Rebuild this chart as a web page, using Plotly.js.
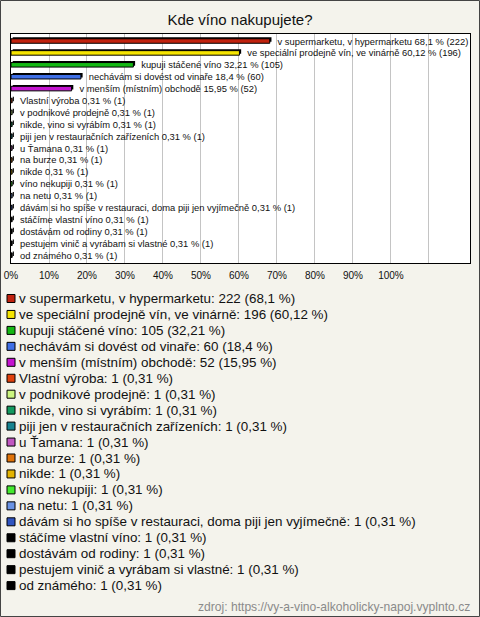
<!DOCTYPE html>
<html>
<head>
<meta charset="utf-8">
<script src="https://cdn.plot.ly/plotly-3.0.1.min.js"></script>
<style>
html,body{margin:0;padding:0;background:#f4f3ec;}
#chart{width:480px;height:617px;}
</style>
</head>
<body>
<div id="chart"></div>
<script>
const categories = [
  "v supermarketu, v hypermarketu",
  "ve speciální prodejně vín, ve vinárně",
  "kupuji stáčené víno",
  "nechávám si dovést od vinaře",
  "v menším (místním) obchodě",
  "Vlastní výroba",
  "v podnikové prodejně",
  "nikde, vino si vyrábím",
  "piji jen v restauračních zařízeních",
  "u Ťamana",
  "na burze",
  "nikde",
  "víno nekupiji",
  "na netu",
  "dávám si ho spíše v restauraci, doma piji jen vyjímečně",
  "stáčíme vlastní víno",
  "dostávám od rodiny",
  "pestujem vinič a vyrábam si vlastné",
  "od známého"
];
const counts = [222, 196, 105, 60, 52, 1, 1, 1, 1, 1, 1, 1, 1, 1, 1, 1, 1, 1, 1];
const percents = [68.1, 60.12, 32.21, 18.4, 15.95, 0.31, 0.31, 0.31, 0.31, 0.31, 0.31, 0.31, 0.31, 0.31, 0.31, 0.31, 0.31, 0.31, 0.31];
const colors = ["#c0220e", "#f5e400", "#14b814", "#3f6fe6", "#c414d0", "#e0400c", "#ccf57f", "#139a5f", "#178390", "#c057c0", "#e07308", "#e4b400", "#44ea2e", "#6a93e4", "#3055c0", "#000000", "#000000", "#000000", "#000000"];
const tickVals = [0, 10, 20, 30, 40, 50, 60, 70, 80, 90, 100, 110];
const tickText = ["0%", "10%", "20%", "30%", "40%", "50%", "60%", "70%", "80%", "90%", "100%", ""];
const titleText = "Kde víno nakupujete?";
const sourceText = "zdroj: https://vy-a-vino-alkoholicky-napoj.vyplnto.cz";

const fmt = v => String(v).replace('.', ',');
const FONT = "Liberation Sans, Arial, sans-serif";

// pixel geometry helpers
const W = 480, H = 617;
const L = 11, R = 470, T = 34, B = 263;
const px2x = p => (p - L) / (R - L);
const px2y = p => (B - p) / (B - T);

const barLabels = categories.map((c, i) => "\u00a0\u00a0\u00a0" + c + " " + fmt(percents[i]) + " % (" + counts[i] + ")");

const shadow = {
  type: 'bar', orientation: 'h',
  y: categories, x: percents,
  base: 0.45,
  width: 0.38, offset: -0.31,
  marker: {color: '#000000', line: {width: 0}},
  hoverinfo: 'skip', showlegend: false
};
const front = {
  type: 'bar', orientation: 'h',
  y: categories, x: percents,
  width: 0.38, offset: -0.19,
  marker: {color: colors, line: {color: '#000000', width: 1}},
  text: barLabels, textposition: 'outside', constraintext: 'none',
  cliponaxis: false,
  textfont: {family: FONT, size: 9.4, color: '#111111'},
  hoverinfo: 'x+y', showlegend: false
};

const annotations = [];
const shapes = [];
categories.forEach((c, i) => {
  const cy = 298.5 + i * 15.95;
  shapes.push({
    type: 'rect', xref: 'paper', yref: 'paper',
    x0: px2x(7), x1: px2x(15), y0: px2y(cy - 4), y1: px2y(cy + 4),
    fillcolor: colors[i], line: {color: '#000000', width: 1}
  });
  annotations.push({
    xref: 'paper', yref: 'paper', x: px2x(17), y: px2y(cy),
    xanchor: 'left', yanchor: 'middle', showarrow: false,
    text: c + ": " + counts[i] + " (" + fmt(percents[i]) + " %)",
    font: {family: FONT, size: 13.4, color: '#111111'}
  });
});
annotations.push({
  xref: 'paper', yref: 'paper', x: px2x(472), y: px2y(607),
  xanchor: 'right', yanchor: 'middle', showarrow: false,
  text: sourceText, font: {family: FONT, size: 12.1, color: '#8a8a8a'}
});
// outer frame
shapes.push({
  type: 'rect', xref: 'paper', yref: 'paper',
  x0: px2x(0.5), x1: px2x(479.5), y0: px2y(616.5), y1: px2y(0.5),
  line: {color: '#444444', width: 1}
});

const layout = {
  width: W, height: H,
  margin: {l: L, r: W - R, t: T, b: H - B, pad: 0},
  paper_bgcolor: '#f4f3ec', plot_bgcolor: '#ffffff',
  barmode: 'overlay',
  title: {text: titleText, font: {family: FONT, size: 15, color: '#111111'}, x: 0.5, xanchor: 'center', y: 1 - 20 / H, yanchor: 'middle'},
  xaxis: {
    range: [0, 120.8], tickmode: 'array', tickvals: tickVals, ticktext: tickText,
    showgrid: true, gridcolor: '#c4c4c4', gridwidth: 1, zeroline: false,
    showline: true, mirror: true, linecolor: '#000000', linewidth: 1,
    ticks: '', ticklabelstandoff: 3, tickfont: {family: FONT, size: 10, color: '#111111'},
    fixedrange: true
  },
  yaxis: {
    type: 'category', categoryarray: categories, categoryorder: 'array',
    range: [18.66, -0.59], showticklabels: false, showgrid: false, zeroline: false,
    showline: true, mirror: true, linecolor: '#000000', linewidth: 1, ticks: '',
    fixedrange: true
  },
  annotations: annotations,
  shapes: shapes,
  showlegend: false,
  font: {family: FONT}
};

Plotly.newPlot('chart', [shadow, front], layout, {displayModeBar: false, staticPlot: true});
</script>
</body>
</html>
